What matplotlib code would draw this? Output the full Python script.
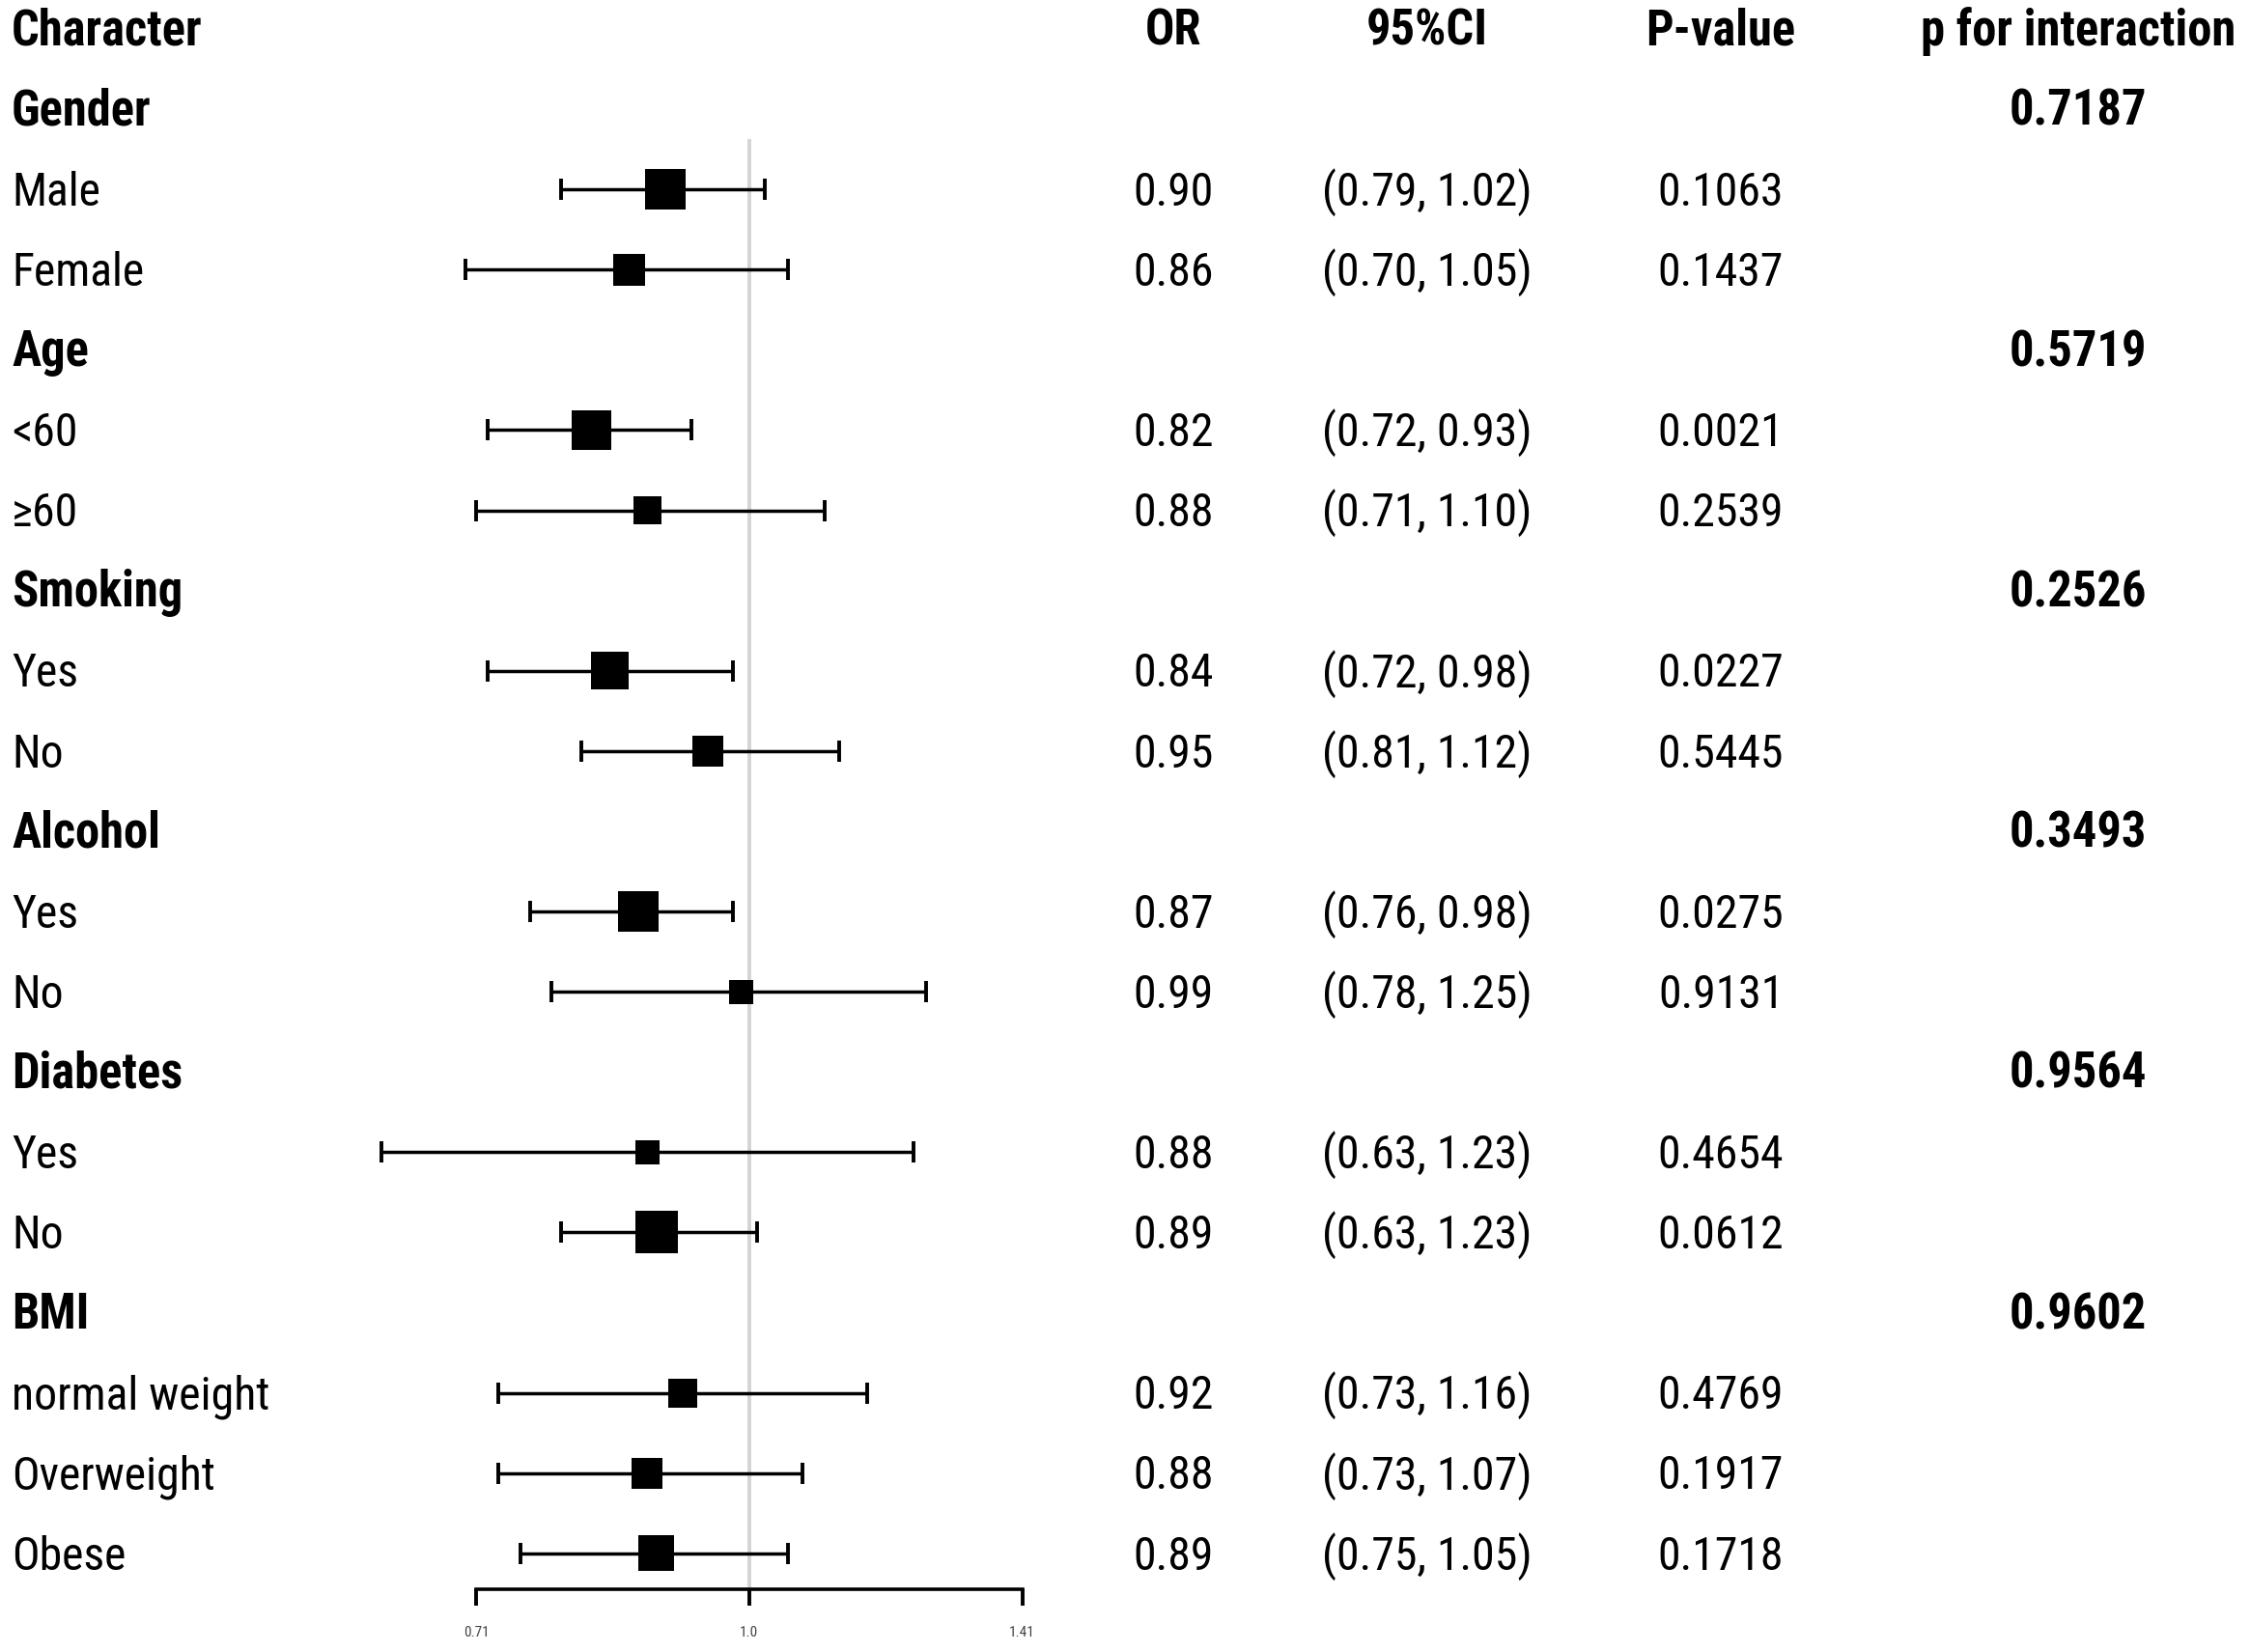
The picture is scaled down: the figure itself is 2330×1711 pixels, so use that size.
import numpy as np
import matplotlib
matplotlib.use("Agg")
import matplotlib.pyplot as plt
from matplotlib.transforms import blended_transform_factory

plt.rcParams['font.family'] = ['Roboto Condensed', 'DejaVu Sans']

## data
labels = ["Gender", "Male", "Female",
          "Age", "<60", "\u226560",
          "Smoking", "Yes", "No",
          "Alcohol", "Yes", "No",
          "Diabetes", "Yes", "No",
          "BMI", "normal weight", "Overweight", "Obese"]
is_group = [1, 0, 0, 1, 0, 0, 1, 0, 0, 1, 0, 0, 1, 0, 0, 1, 0, 0, 0]
or_text = ["", "0.90", "0.86", "", "0.82", "0.88", "", "0.84", "0.95",
           "", "0.87", "0.99", "", "0.88", "0.89", "", "0.92", "0.88", "0.89"]
ci_text = ["", "(0.79, 1.02)", "(0.70, 1.05)", "", "(0.72, 0.93)", "(0.71, 1.10)",
           "", "(0.72, 0.98)", "(0.81, 1.12)", "", "(0.76, 0.98)", "(0.78, 1.25)",
           "", "(0.63, 1.23)", "(0.63, 1.23)", "", "(0.73, 1.16)", "(0.73, 1.07)",
           "(0.75, 1.05)"]
p_text = ["", "0.1063", "0.1437", "", "0.0021", "0.2539", "", "0.0227", "0.5445",
          "", "0.0275", "0.9131", "", "0.4654", "0.0612", "", "0.4769", "0.1917",
          "0.1718"]
p_inter = ["0.7187", "", "", "0.5719", "", "", "0.2526", "", "", "0.3493", "", "",
           "0.9564", "", "", "0.9602", "", "", ""]

# plotted estimates (as drawn)
est = [np.nan, 0.90, 0.86, np.nan, 0.82, 0.88, np.nan, 0.84, 0.95,
       np.nan, 0.87, 0.99, np.nan, 0.88, 0.89, np.nan, 0.92, 0.88, 0.89]
lo = [np.nan, 0.79, 0.70, np.nan, 0.72, 0.71, np.nan, 0.72, 0.81,
      np.nan, 0.76, 0.78, np.nan, 0.63, 0.79, np.nan, 0.73, 0.73, 0.75]
hi = [np.nan, 1.02, 1.05, np.nan, 0.93, 1.10, np.nan, 0.98, 1.12,
      np.nan, 0.98, 1.25, np.nan, 1.23, 1.01, np.nan, 1.16, 1.07, 1.05]
# box size (weight)
weight = [np.nan, 42, 33, np.nan, 41, 29, np.nan, 39, 32,
          np.nan, 42, 25, np.nan, 25, 44, np.nan, 30, 32, 37]

headers = ["Character", "OR", "95%CI", "P-value", "p for interaction"]
xticks = [0.71, 1.0, 1.41]
xticklabels = ["0.71", "1.0", "1.41"]

## figure
W, H, DPI = 2330, 1711, 200
fig = plt.figure(figsize=(W / DPI, H / DPI), dpi=DPI)

row0, drow = 30, 83.1        # pixel centre of header row, row spacing
ax_bottom_px = 1646
ax_left_px, ax_right_px = 300, 1250
x1_px, px_per_log2 = 775.5, 571

ax = fig.add_axes([ax_left_px / W, 1 - ax_bottom_px / H,
                   (ax_right_px - ax_left_px) / W, ax_bottom_px / H])
ax.set_xscale('log', base=2)
ax.set_xlim(2 ** ((ax_left_px - x1_px) / px_per_log2),
            2 ** ((ax_right_px - x1_px) / px_per_log2))
ax.set_ylim((ax_bottom_px - row0) / drow, -row0 / drow)

rows = np.arange(1, len(labels) + 1)
est = np.array(est)
lo = np.array(lo)
hi = np.array(hi)
weight = np.array(weight)
m = ~np.isnan(est)

# reference line
ax.plot([1, 1], [(146 - row0) / drow, (ax_bottom_px - row0) / drow],
        color='#d4d4d4', lw=1.4, zorder=1, clip_on=False)

ax.errorbar(est[m], rows[m], xerr=[est[m] - lo[m], hi[m] - est[m]],
            fmt='none', ecolor='black', elinewidth=1.25, capsize=4,
            capthick=1.4, zorder=2)
ax.scatter(est[m], rows[m], s=(weight[m] * 72 / DPI) ** 2, marker='s',
           color='black', linewidths=0, zorder=3)

# axis styling
for s in ['top', 'left', 'right']:
    ax.spines[s].set_visible(False)
ax.spines['bottom'].set_bounds(xticks[0], xticks[-1])
ax.spines['bottom'].set_linewidth(1.3)
ax.set_yticks([])
ax.set_xticks(xticks)
ax.set_xticklabels(xticklabels)
ax.minorticks_off()
ax.tick_params(axis='x', length=6.1, width=1.4, pad=7.5, labelsize=5.5,
               labelcolor='#444444')
ax.patch.set_alpha(0)

## table text
tr = blended_transform_factory(fig.transFigure, ax.transData)
col_x = [12 / W, 1215 / W, 1478 / W, 1782 / W, 2152 / W]
fs = 17.2
fs_b = 18.2
off = 0.2  # baseline offset (rows)

ax.text(col_x[0], 0 + off, headers[0], transform=tr, ha='left', va='baseline',
        fontsize=fs_b, fontweight='bold')
for j in range(1, 5):
    ax.text(col_x[j], 0 + off, headers[j], transform=tr, ha='center',
            va='baseline', fontsize=fs_b, fontweight='bold')

for i, r in enumerate(rows):
    if is_group[i]:
        ax.text(col_x[0], r + off, labels[i], transform=tr, ha='left',
                va='baseline', fontsize=fs_b, fontweight='bold')
    else:
        ax.text(col_x[0], r + off, labels[i], transform=tr, ha='left',
                va='baseline', fontsize=fs)
    ax.text(col_x[1], r + off, or_text[i], transform=tr, ha='center',
            va='baseline', fontsize=fs)
    ax.text(col_x[2], r + off, ci_text[i], transform=tr, ha='center',
            va='baseline', fontsize=fs)
    ax.text(col_x[3], r + off, p_text[i], transform=tr, ha='center',
            va='baseline', fontsize=fs)
    ax.text(col_x[4], r + off, p_inter[i], transform=tr, ha='center',
            va='baseline', fontsize=fs_b, fontweight='bold')

plt.savefig('out.png', dpi=DPI)
